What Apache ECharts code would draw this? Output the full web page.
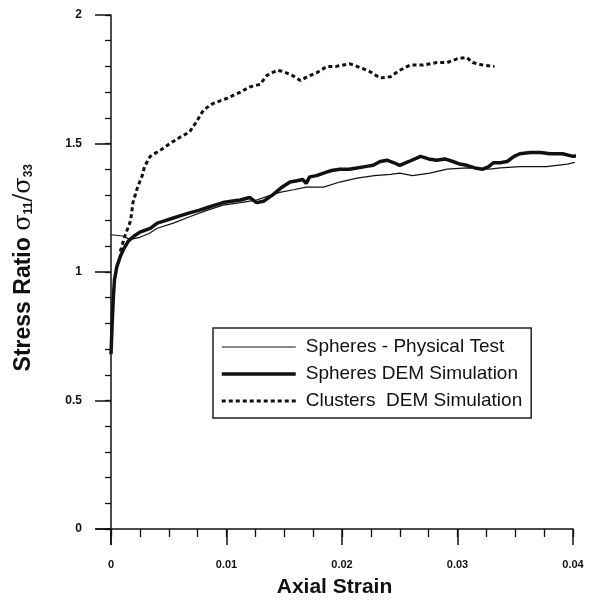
<!DOCTYPE html>
<html>
<head>
<meta charset="utf-8">
<script src="https://cdn.jsdelivr.net/npm/echarts@6/dist/echarts.min.js"></script>
<style>
  html, body { margin: 0; padding: 0; background: #fff; }
  #chart { width: 589px; height: 601px; }
</style>
</head>
<body>
<div id="chart"></div>
<script>
// Axial strain / stress ratio curves for the three test series.
const physStrain = [
  0, 0.0010, 0.0015, 0.0020, 0.0025, 0.0033, 0.0040, 0.0054, 0.0068, 0.0083,
  0.0097, 0.0112, 0.0126, 0.0136, 0.0146, 0.0158, 0.0169, 0.0184, 0.0198, 0.0213,
  0.0228, 0.0242, 0.0250, 0.0261, 0.0276, 0.0291, 0.0308, 0.0328, 0.0337, 0.0354,
  0.0377, 0.0395, 0.0415
];
const physRatio = [
  1.145, 1.14, 1.13, 1.13, 1.135, 1.15, 1.17, 1.19, 1.215, 1.24,
  1.26, 1.27, 1.28, 1.295, 1.31, 1.32, 1.33, 1.33, 1.35, 1.365,
  1.375, 1.38, 1.385, 1.375, 1.385, 1.40, 1.405, 1.40, 1.405, 1.41,
  1.41, 1.42, 1.44
];

const demStrain = [
  0, 0.0001, 0.0002, 0.0003, 0.0005, 0.0008, 0.0011, 0.0015, 0.0020, 0.0025,
  0.0034, 0.0040, 0.0047, 0.0054, 0.0061, 0.0068, 0.0076, 0.0083, 0.0090, 0.0097,
  0.0104, 0.0112, 0.0120, 0.0126, 0.0132, 0.0140, 0.0148, 0.0155, 0.0161, 0.0166,
  0.0169, 0.0172, 0.0178, 0.0184, 0.0191, 0.0198, 0.0206, 0.0213, 0.0220, 0.0227,
  0.0233, 0.0239, 0.0245, 0.0250, 0.0258, 0.0268, 0.0275, 0.0282, 0.0289, 0.0296,
  0.0302, 0.0308, 0.0315, 0.0322, 0.0327, 0.0331, 0.0337, 0.0343, 0.0349, 0.0354,
  0.0363, 0.0372, 0.0380, 0.0391, 0.0400, 0.0408, 0.0415
];
const demRatio = [
  0.68, 0.80, 0.90, 0.97, 1.02, 1.06, 1.09, 1.12, 1.14, 1.155,
  1.17, 1.19, 1.20, 1.21, 1.22, 1.23, 1.24, 1.25, 1.26, 1.27,
  1.275, 1.28, 1.29, 1.27, 1.275, 1.30, 1.33, 1.35, 1.355, 1.36,
  1.345, 1.37, 1.375, 1.385, 1.395, 1.40, 1.40, 1.405, 1.41, 1.415,
  1.43, 1.435, 1.425, 1.415, 1.43, 1.45, 1.44, 1.435, 1.44, 1.43,
  1.42, 1.415, 1.405, 1.40, 1.41, 1.425, 1.425, 1.43, 1.45, 1.46,
  1.465, 1.465, 1.46, 1.46, 1.45, 1.455, 1.45
];

const clusterStrain = [
  0.0008, 0.0012, 0.0017, 0.0019, 0.0023, 0.0027, 0.0029, 0.0034, 0.0043, 0.0051,
  0.0060, 0.0068, 0.0074, 0.0080, 0.0088, 0.0100, 0.0112, 0.0120, 0.0129, 0.0135,
  0.0144, 0.0149, 0.0157, 0.0164, 0.0170, 0.0178, 0.0187, 0.0195, 0.0207, 0.0216,
  0.0224, 0.0233, 0.0242, 0.0250, 0.0259, 0.0270, 0.0282, 0.0291, 0.0300, 0.0308,
  0.0313, 0.0322, 0.0332
];
const clusterRatio = [
  1.08, 1.14, 1.20, 1.27, 1.33, 1.375, 1.41, 1.45, 1.475, 1.50,
  1.525, 1.545, 1.585, 1.63, 1.655, 1.675, 1.70, 1.72, 1.73, 1.765,
  1.785, 1.78, 1.765, 1.745, 1.76, 1.775, 1.80, 1.80, 1.81, 1.795,
  1.78, 1.755, 1.76, 1.785, 1.805, 1.805, 1.815, 1.815, 1.83, 1.835,
  1.815, 1.805, 1.80
];

const seriesNames = ['Spheres - Physical Test', 'Spheres DEM Simulation', 'Clusters  DEM Simulation'];
const xTickLabels = [0, 0.01, 0.02, 0.03, 0.04];
const yTickLabels = [0, 0.5, 1, 1.5, 2];

const xMinorTicks = [];
for (let i = 0; i <= 16; i++) xMinorTicks.push(+(i * 0.0025).toFixed(4));
const yMinorTicks = [];
for (let i = 0; i <= 20; i++) yMinorTicks.push(+(i * 0.1).toFixed(1));

const zip = (xs, ys) => xs.map((x, i) => [x, ys[i]]);

const X_MIN = -0.0013, X_MAX = 0.04;
const Y_MIN = -0.06, Y_MAX = 2;
const ink = '#111';
const labelFont = { fontFamily: 'Liberation Sans', fontWeight: 'bold', color: ink };

const lineStyles = [
  { color: ink, width: 1.2 },
  { color: ink, width: 3.5 },
  { color: ink, width: 3, type: [4, 3] }
];

const chart = echarts.init(document.getElementById('chart'), null, { renderer: 'canvas' });

chart.setOption({
  backgroundColor: '#fff',
  animation: false,
  grid: { left: 96, right: 16, top: 15, bottom: 56.6, containLabel: false, outerBoundsMode: 'none' },
  legend: {
    orient: 'vertical',
    left: 213,
    top: 328,
    padding: [9, 9, 7, 7],
    itemGap: 7,
    itemWidth: 74,
    itemHeight: 20,
    borderColor: '#222',
    borderWidth: 1.5,
    backgroundColor: '#fff',
    itemStyle: { opacity: 0 },
    data: seriesNames.map((n, i) => ({ name: n, lineStyle: lineStyles[i] })),
    textStyle: { fontFamily: 'Liberation Sans', fontSize: 19, color: ink, padding: [0, 0, 0, 5], lineHeight: 20 }
  },
  xAxis: [
    {
      type: 'value', min: X_MIN, max: X_MAX,
      axisLine: { onZero: true, lineStyle: { color: ink, width: 1.5 } },
      axisTick: { show: true, customValues: xMinorTicks, length: 8, lineStyle: { color: ink, width: 1.3 } },
      axisLabel: { show: false },
      splitLine: { show: false }
    },
    {
      type: 'value', min: X_MIN, max: X_MAX, position: 'bottom',
      axisLine: { show: false, onZero: true },
      axisTick: { show: true, customValues: xTickLabels, length: 16, lineStyle: { color: ink, width: 1.5 } },
      axisLabel: { show: true, customValues: xTickLabels, margin: 15, fontSize: 11, ...labelFont,
        formatter: v => String(v) },
      splitLine: { show: false },
      name: 'Axial Strain', nameLocation: 'middle', nameGap: 32,
      nameTextStyle: { fontFamily: 'Liberation Sans', fontWeight: 'bold', fontSize: 21, color: ink }
    }
  ],
  yAxis: [
    {
      type: 'value', min: Y_MIN, max: Y_MAX,
      axisLine: { onZero: true, lineStyle: { color: ink, width: 1.5 } },
      axisTick: { show: true, customValues: yMinorTicks, length: 6, lineStyle: { color: ink, width: 1.3 } },
      axisLabel: { show: false },
      splitLine: { show: false }
    },
    {
      type: 'value', min: Y_MIN, max: Y_MAX, position: 'left',
      axisLine: { show: false, onZero: true },
      axisTick: { show: true, customValues: yTickLabels, length: 16, lineStyle: { color: ink, width: 1.5 } },
      axisLabel: { show: true, customValues: yTickLabels, margin: 14, fontSize: 12, ...labelFont,
        formatter: v => String(v) },
      splitLine: { show: false },
      name: '{b|Stress Ratio }{s|σ}{sub|11}{s|/σ}{sub|33}',
      nameLocation: 'middle', nameRotate: 90, nameGap: 60,
      nameTextStyle: {
        padding: [0, 0, 0, 24],
        rich: {
          b: { fontFamily: 'Liberation Sans', fontWeight: 'bold', fontSize: 23, color: ink },
          s: { fontFamily: 'DejaVu Serif', fontSize: 24, color: ink },
          sub: { fontFamily: 'Liberation Sans', fontWeight: 'bold', fontSize: 12, color: ink, padding: [10, 0, 0, 0] }
        }
      }
    }
  ],
  series: [
    {
      name: seriesNames[0], type: 'line', xAxisIndex: 0, yAxisIndex: 0,
      data: zip(physStrain, physRatio), symbol: 'none', clip: false,
      lineStyle: lineStyles[0], itemStyle: { color: ink }
    },
    {
      name: seriesNames[1], type: 'line', xAxisIndex: 0, yAxisIndex: 0,
      data: zip(demStrain, demRatio), symbol: 'none', clip: false,
      lineStyle: lineStyles[1], itemStyle: { color: ink }
    },
    {
      name: seriesNames[2], type: 'line', xAxisIndex: 0, yAxisIndex: 0,
      data: zip(clusterStrain, clusterRatio), symbol: 'none', clip: false,
      lineStyle: lineStyles[2], itemStyle: { color: ink }
    }
  ]
});
</script>
</body>
</html>
